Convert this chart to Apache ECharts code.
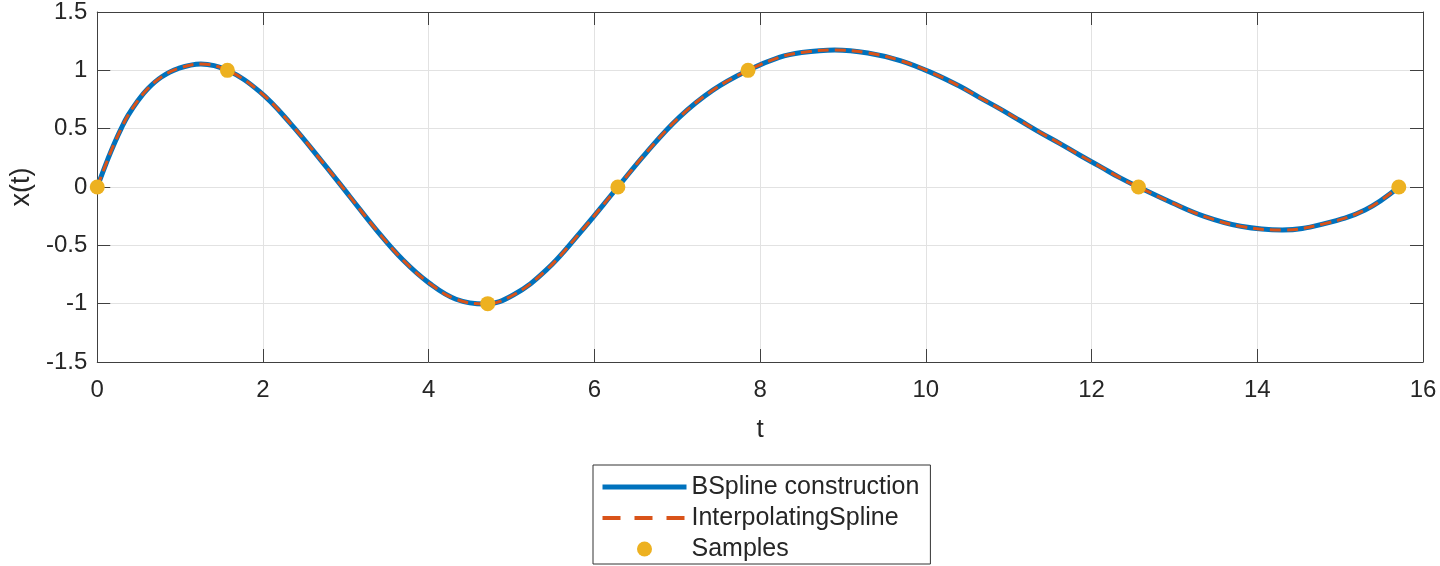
<!DOCTYPE html>
<html>
<head>
<meta charset="utf-8">
<script src="https://cdn.jsdelivr.net/npm/echarts@6/dist/echarts.min.js"></script>
<style>
html,body{margin:0;padding:0;background:#fff;}
#chart{width:1440px;height:566px;}
</style>
</head>
<body>
<div id="chart"></div>
<script>
// Curve values (t, x(t))
const curveT = [0, 0.13, 0.21, 0.29, 0.37, 0.49, 0.61, 0.775, 0.975, 1.25, 1.571, 1.96, 2.33, 2.73, 3.05, 3.37, 3.69, 4.01, 4.33, 4.68, 5.02, 5.42, 5.82, 6.283, 6.62, 7.02, 7.43, 7.854, 8.23, 8.5, 8.9, 9.3, 9.7, 10.1, 10.41, 10.65, 10.89, 11.13, 11.37, 11.62, 11.86, 12.10, 12.34, 12.566, 12.97, 13.37, 13.8, 14.3, 14.8, 15.3, 15.708];
const curveX = [0, 0.243, 0.38, 0.503, 0.612, 0.74, 0.843, 0.943, 1.015, 1.054, 1.0, 0.817, 0.546, 0.203, -0.083, -0.369, -0.626, -0.826, -0.962, -1.003, -0.926, -0.711, -0.397, 0, 0.289, 0.595, 0.83, 1.0, 1.111, 1.153, 1.175, 1.149, 1.082, 0.97, 0.863, 0.766, 0.672, 0.572, 0.471, 0.372, 0.272, 0.177, 0.080, 0, -0.135, -0.254, -0.337, -0.369, -0.316, -0.197, 0];
// Sample points
const sampleT = [0, 1.5708, 4.7124, 6.2832, 7.854, 12.5664, 15.708];
const sampleX = [0, 1, -1, 0, 1, 0, 0];
// Axis ticks
const xTicks = {min: 0, max: 16, interval: 2};
const yTicks = {min: -1.5, max: 1.5, interval: 0.5};
const seriesNames = ['BSpline construction', 'InterpolatingSpline', 'Samples'];

const curve = curveT.map((t, i) => [t, curveX[i]]);
const samples = sampleT.map((t, i) => [t, sampleX[i]]);

const FONT = '"Liberation Sans", Arial, Helvetica, sans-serif';
const TXT = '#262626';
const AX = '#404040';
const BLUE = '#0072BD', ORANGE = '#D95319', YELLOW = '#EDB120';

const chart = echarts.init(document.getElementById('chart'), null, {renderer: 'canvas'});

const baseAxis = (extra) => Object.assign({
  type: 'value',
  axisLine: {show: true, onZero: false, lineStyle: {color: AX, width: 1}},
  axisTick: {show: true, inside: true, length: 13, lineStyle: {color: AX, width: 1}},
}, extra);

chart.setOption({
  animation: false,
  backgroundColor: '#fff',
  textStyle: {fontFamily: FONT},
  grid: {left: 97, right: 17, top: 12, bottom: 204, containLabel: false},
  xAxis: [
    baseAxis({
      position: 'bottom', min: xTicks.min, max: xTicks.max, interval: xTicks.interval,
      name: 't', nameLocation: 'middle', nameGap: 55,
      nameTextStyle: {fontFamily: FONT, fontSize: 26, color: TXT},
      axisLabel: {fontFamily: FONT, fontSize: 24, color: TXT, margin: 16},
      splitLine: {show: true, lineStyle: {color: '#e2e2e2', width: 1}}
    }),
    baseAxis({
      position: 'top', min: xTicks.min, max: xTicks.max, interval: xTicks.interval,
      axisLabel: {show: false}, splitLine: {show: false}
    })
  ],
  yAxis: [
    baseAxis({
      position: 'left', min: yTicks.min, max: yTicks.max, interval: yTicks.interval,
      name: 'x(t)', nameLocation: 'middle', nameGap: 61, nameRotate: 90,
      nameTextStyle: {fontFamily: FONT, fontSize: 27, color: TXT},
      axisLabel: {fontFamily: FONT, fontSize: 24, color: TXT, margin: 10},
      splitLine: {show: true, lineStyle: {color: '#e2e2e2', width: 1}}
    }),
    baseAxis({
      position: 'right', min: yTicks.min, max: yTicks.max, interval: yTicks.interval,
      axisLabel: {show: false}, splitLine: {show: false}
    })
  ],
  legend: {
    orient: 'vertical',
    left: 593, top: 465,
    padding: [9.5, 11, 2.5, 7],
    itemGap: 6,
    itemWidth: 84,
    itemHeight: 15,
    backgroundColor: '#fff',
    borderColor: '#333',
    borderWidth: 1,
    borderRadius: 0,
    textStyle: {fontFamily: FONT, fontSize: 25, color: TXT, lineHeight: 25},
    data: [
      {name: seriesNames[0], itemStyle: {opacity: 0}, lineStyle: {color: BLUE, width: 5, type: 'solid'}},
      {name: seriesNames[1], itemStyle: {opacity: 0}, lineStyle: {color: ORANGE, width: 4, type: [18, 14]}},
      {name: seriesNames[2], icon: 'circle', itemStyle: {color: YELLOW}}
    ]
  },
  series: [
    {
      name: seriesNames[0], type: 'line', data: curve, smooth: 0.4,
      showSymbol: false, symbol: 'none',
      lineStyle: {color: BLUE, width: 5},
      itemStyle: {color: BLUE}, z: 2
    },
    {
      name: seriesNames[1], type: 'line', data: curve, smooth: 0.4,
      showSymbol: false, symbol: 'none',
      lineStyle: {color: ORANGE, width: 3, type: [11, 6]},
      itemStyle: {color: ORANGE}, z: 3
    },
    {
      name: seriesNames[2], type: 'scatter', data: samples,
      symbol: 'circle', symbolSize: 15,
      itemStyle: {color: YELLOW, opacity: 1}, z: 4
    }
  ]
});
</script>
</body>
</html>
